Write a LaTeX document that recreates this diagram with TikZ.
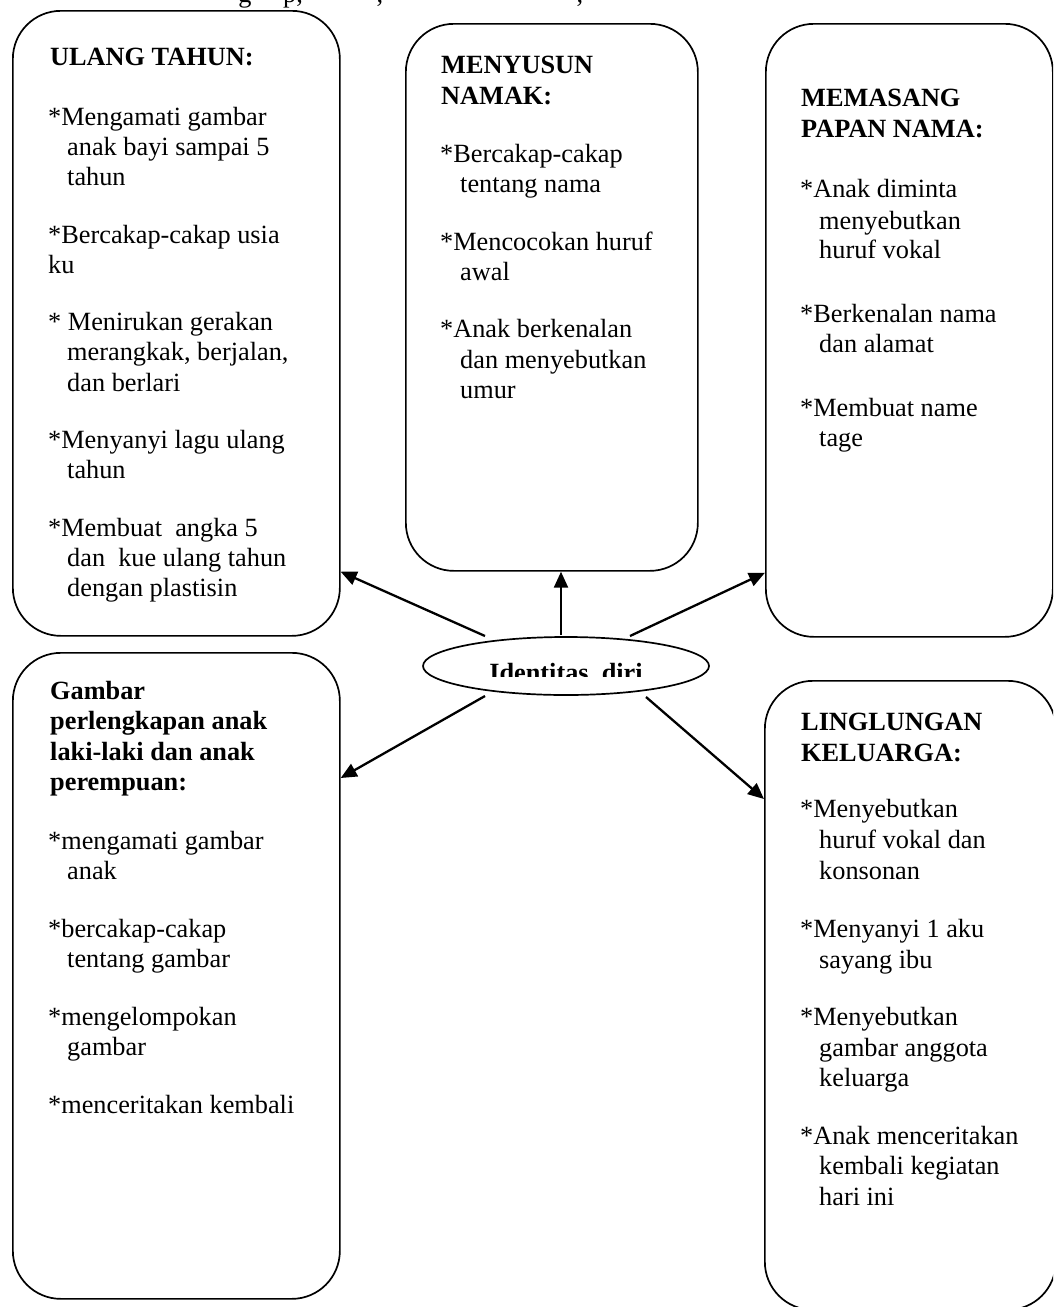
\documentclass[tikz,border=0pt]{standalone}
\usepackage{fontspec}
\setmainfont{Liberation Serif}
\usetikzlibrary{shapes.geometric,arrows.meta}
\tikzset{
  boxshape/.style={draw, line width=1.7pt, rounded corners=48pt, inner sep=0pt, anchor=north west},
  txt/.style={anchor=base west, inner sep=0pt, font=\fontsize{26.3}{30}\selectfont},
  ttl/.style={anchor=base west, inner sep=0pt, font=\fontsize{26.3}{30}\selectfont\bfseries},
  arr/.style={line width=2.3pt, -{Triangle[length=16pt,width=14pt]}},
  ellshape/.style={ellipse, draw, line width=1.7pt, inner sep=0pt, minimum width=286pt, minimum height=58pt},
}
\begin{document}
\begin{tikzpicture}[x=1pt,y=-1pt]
\useasboundingbox (0,0) rectangle (1053,1307);
\clip (0,0) rectangle (1053,1307);

% top text fragments (cut off in the reference)
\node[txt, anchor=base] (fa) at (245,2) {g};
\node[txt, anchor=base] (fb) at (293,2) {p,};
\node[txt, anchor=base] (fc) at (380,2) {,};
\node[txt, anchor=base] (fd) at (580,2) {,};

% boxes
\node[boxshape, minimum width=327pt, minimum height=625pt] (box1) at (12,10) {};
\node[boxshape, minimum width=292pt, minimum height=547pt] (box2) at (405,23) {};
\node[boxshape, minimum width=287pt, minimum height=613pt] (box3) at (765,23) {};
\node[boxshape, minimum width=327pt, minimum height=646pt] (box4) at (12,652) {};
\node[boxshape, minimum width=291pt, minimum height=629pt] (box5) at (764,680) {};

% ellipse
\node[ellshape] (ell) at (566,666) {};
\begin{scope}
  \clip (420,640) rectangle (712,676);
  \node[ttl, anchor=base] (lbl) at (566,681) {Identitas\ \ diri};
\end{scope}

% box 1 text
\node[ttl] (a0) at (50,65) {ULANG TAHUN:};
\node[txt] (a1) at (48,125) {*Mengamati gambar};
\node[txt] (a2) at (67,155) {anak bayi sampai 5};
\node[txt] (a3) at (67,185) {tahun};
\node[txt] (a4) at (48,243) {*Bercakap-cakap usia};
\node[txt] (a5) at (48,273) {ku};
\node[txt] (a6) at (48,330) {* Menirukan gerakan};
\node[txt] (a7) at (67,360) {merangkak, berjalan,};
\node[txt] (a8) at (67,391) {dan berlari};
\node[txt] (a9) at (48,448) {*Menyanyi lagu ulang};
\node[txt] (a10) at (67,478) {tahun};
\node[txt] (a11) at (48,536) {*Membuat\ \ angka 5};
\node[txt] (a12) at (67,566) {dan\ \ kue ulang tahun};
\node[txt] (a13) at (67,596) {dengan plastisin};

% box 2 text
\node[ttl] (b0) at (441,73) {MENYUSUN};
\node[ttl] (b1) at (441,104) {NAMAK:};
\node[txt] (b2) at (440,162) {*Bercakap-cakap};
\node[txt] (b3) at (460,192) {tentang nama};
\node[txt] (b4) at (440,250) {*Mencocokan huruf};
\node[txt] (b5) at (460,280) {awal};
\node[txt] (b6) at (440,337) {*Anak berkenalan};
\node[txt] (b7) at (460,368) {dan menyebutkan};
\node[txt] (b8) at (460,398) {umur};

% box 3 text
\node[ttl] (c0) at (801,106) {MEMASANG};
\node[ttl] (c1) at (801,137) {PAPAN NAMA:};
\node[txt] (c2) at (800,197) {*Anak diminta};
\node[txt] (c3) at (819,229) {menyebutkan};
\node[txt] (c4) at (819,258) {huruf vokal};
\node[txt] (c5) at (800,322) {*Berkenalan nama};
\node[txt] (c6) at (819,352) {dan alamat};
\node[txt] (c7) at (800,416) {*Membuat name};
\node[txt] (c8) at (819,446) {tage};

% box 4 text
\node[ttl] (d0) at (50,699) {Gambar};
\node[ttl] (d1) at (50,729) {perlengkapan anak};
\node[ttl] (d2) at (50,760) {laki-laki dan anak};
\node[ttl] (d3) at (50,790) {perempuan:};
\node[txt] (d4) at (48,849) {*mengamati gambar};
\node[txt] (d5) at (67,879) {anak};
\node[txt] (d6) at (48,937) {*bercakap-cakap};
\node[txt] (d7) at (67,967) {tentang gambar};
\node[txt] (d8) at (48,1025) {*mengelompokan};
\node[txt] (d9) at (67,1055) {gambar};
\node[txt] (d10) at (48,1113) {*menceritakan kembali};

% box 5 text
\node[ttl] (e0) at (801,730) {LINGLUNGAN};
\node[ttl] (e1) at (801,761) {KELUARGA:};
\node[txt] (e2) at (800,817) {*Menyebutkan};
\node[txt] (e3) at (819,848) {huruf vokal dan};
\node[txt] (e4) at (819,879) {konsonan};
\node[txt] (e5) at (800,937) {*Menyanyi 1 aku};
\node[txt] (e6) at (819,968) {sayang ibu};
\node[txt] (e7) at (800,1025) {*Menyebutkan};
\node[txt] (e8) at (819,1056) {gambar anggota};
\node[txt] (e9) at (819,1086) {keluarga};
\node[txt] (e10) at (800,1144) {*Anak menceritakan};
\node[txt] (e11) at (819,1174) {kembali kegiatan};
\node[txt] (e12) at (819,1205) {hari ini};

% connectors
\draw[arr] ([xshift=-81pt,yshift=30pt]ell.center) -- ([yshift=65pt]box1.south east);
\draw[arr] ([xshift=-5pt,yshift=1pt]ell.north) -- ([xshift=-5pt]ell.north |- box2.south);
\draw[arr] ([xshift=64pt,yshift=30pt]ell.center) -- ([yshift=65pt]box3.south west);
\draw[arr] ([xshift=-81pt,yshift=-30pt]ell.center) -- ([yshift=-126pt]box4.north east);
\draw[arr] ([xshift=80pt,yshift=-31pt]ell.center) -- ([yshift=-119pt]box5.north west);
\end{tikzpicture}
\end{document}
